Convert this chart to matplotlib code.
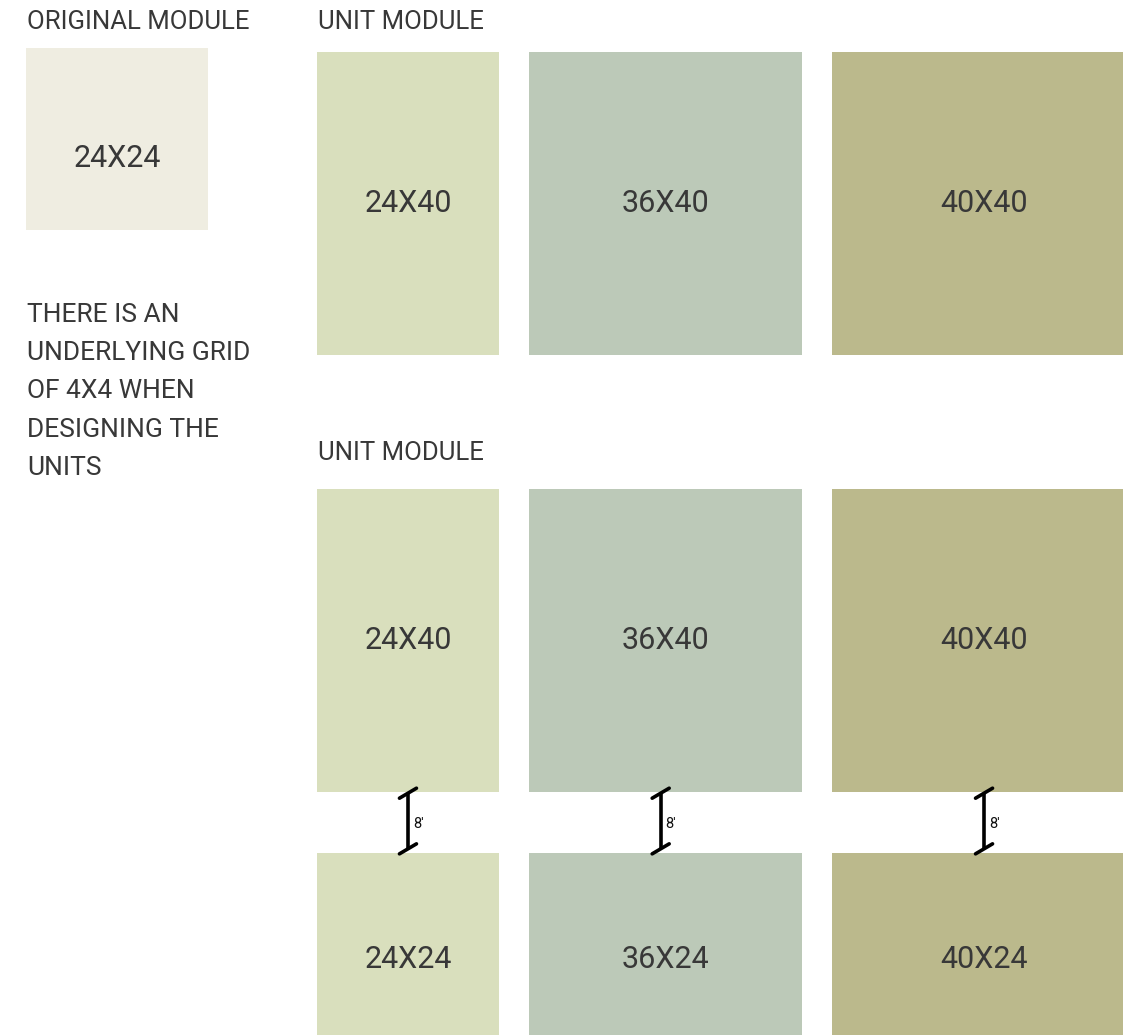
import matplotlib
matplotlib.use("Agg")
import matplotlib.pyplot as plt
from matplotlib.patches import Rectangle

# ---- data (module sizes in grid units) ----
original_size = (24, 24)
unit_widths = [24, 36, 40]
unit_height = 40
lower_height = 24
gap_units = 8
colors_original = "#EFEDE1"
column_colors = ["#D9DFBD", "#BCC9B8", "#BBB98C"]
header_original = "ORIGINAL MODULE"
header_unit = "UNIT MODULE"
note_lines = ["THERE IS AN", "UNDERLYING GRID", "OF 4X4 WHEN", "DESIGNING THE", "UNITS"]
gap_label = "8\u2032"

W, H = 1123, 1035
S = 7.58  # px per unit
COL_GAP = 4  # units between columns

plt.rcParams['font.family'] = ['Roboto', 'DejaVu Sans']
fig = plt.figure(figsize=(W / 100, H / 100), dpi=100)
ax = fig.add_axes([0, 0, 1, 1])
ax.set_xlim(0, W)
ax.set_ylim(H, 0)
ax.axis('off')

txt_col = "#383838"
hdr_fs = 18.5
note_fs = 19
lbl_fs = 22
FW = 'normal'

def rect(x, y, w, h, c):
    ax.add_patch(Rectangle((x, y), w * S, h * S, facecolor=c, edgecolor='none'))

def label(x, y, w, h, dy=0):
    ax.text(x + w * S / 2, y + h * S / 2 + dy, f"{w}X{h}", ha='center', va='center',
            fontsize=lbl_fs, color=txt_col, fontweight=FW)

# original module
ox, oy = 26, 48
ax.text(ox + 1, 22, header_original, ha='left', va='center', fontsize=hdr_fs,
        color=txt_col, fontweight=FW)
rect(ox, oy, *original_size, colors_original)
label(ox, oy, *original_size, dy=20)

# note
for i, line in enumerate(note_lines):
    ax.text(ox + 1, 315 + i * 38.2, line, ha='left', va='center', fontsize=note_fs,
            color=txt_col, fontweight=FW)

# top unit row
x0 = 317
ax.text(x0 + 1, 22, header_unit, ha='left', va='center', fontsize=hdr_fs,
        color=txt_col, fontweight=FW)
ty = 52
x = x0
for w, c in zip(unit_widths, column_colors):
    rect(x, ty, w, unit_height, c)
    label(x, ty, w, unit_height)
    x += (w + COL_GAP) * S

# bottom group
ax.text(x0 + 1, 453, header_unit, ha='left', va='center', fontsize=hdr_fs,
        color=txt_col, fontweight=FW)
by = 489
x = x0
for w, c in zip(unit_widths, column_colors):
    rect(x, by, w, unit_height, c)
    label(x, by, w, unit_height)
    ly = by + (unit_height + gap_units) * S
    rect(x, ly, w, lower_height, c)
    label(x, ly, w, lower_height, dy=16)
    # dimension marker
    cx = x + w * S / 2 - (5 if w == 36 else 0)
    top = by + unit_height * S
    bot = ly
    t1, t2 = top + 1, bot - 4
    ax.plot([cx, cx], [t1, t2], color='black', lw=2.6, solid_capstyle='butt')
    for yy in (t1, t2):
        ax.plot([cx - 8.5, cx + 8.5], [yy + 5, yy - 5], color='black', lw=2.6,
                solid_capstyle='round')
    ax.text(cx + 5, (top + bot) / 2 + 1, gap_label, ha='left', va='center', fontsize=10.5,
            color='#111111', fontweight='normal')
    x += (w + COL_GAP) * S

fig.savefig("out.png", dpi=100)
